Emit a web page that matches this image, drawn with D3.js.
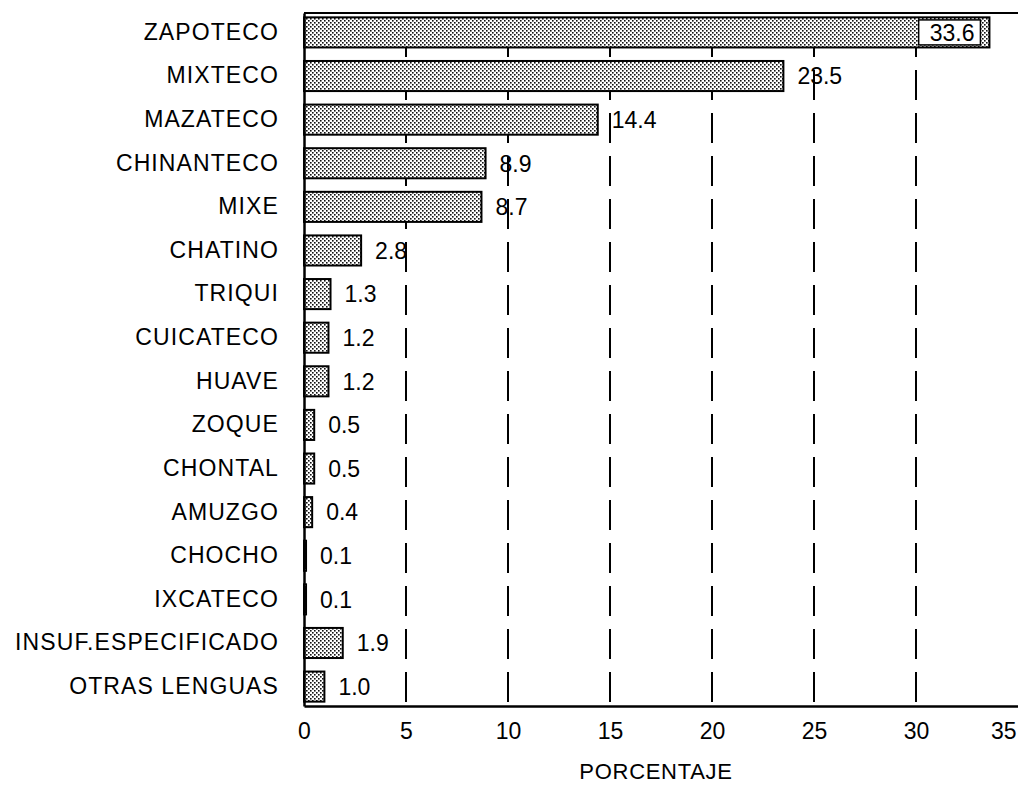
<!DOCTYPE html>
<html>
<head>
<meta charset="utf-8">
<script src="https://cdn.jsdelivr.net/npm/d3@7"></script>
<style>
  html, body { margin: 0; padding: 0; background: #fff; }
  svg { display: block; }
  text { font-family: "Liberation Sans", Arial, Helvetica, sans-serif; fill: #000; }
</style>
</head>
<body>
<svg id="chart" width="1018" height="785"></svg>
<script>
const categories = ["ZAPOTECO", "MIXTECO", "MAZATECO", "CHINANTECO", "MIXE", "CHATINO", "TRIQUI",
  "CUICATECO", "HUAVE", "ZOQUE", "CHONTAL", "AMUZGO", "CHOCHO", "IXCATECO",
  "INSUF.ESPECIFICADO", "OTRAS LENGUAS"];
const values = [33.6, 23.5, 14.4, 8.9, 8.7, 2.8, 1.3, 1.2, 1.2, 0.5, 0.5, 0.4, 0.1, 0.1, 1.9, 1.0];
const valueLabels = ["33.6", "23.5", "14.4", "8.9", "8.7", "2.8", "1.3", "1.2", "1.2", "0.5", "0.5", "0.4", "0.1", "0.1", "1.9", "1.0"];
const xTicks = [0, 5, 10, 15, 20, 25, 30, 35];
const gridTicks = [5, 10, 15, 20, 25, 30];
const xTitle = "PORCENTAJE";

const svg = d3.select("#chart");
const mLeft = 304, mRight = 1018, mTop = 13, mBottom = 706;

const x = d3.scaleLinear().domain([0, 35]).range([mLeft, mRight]);
const y = d3.scaleBand().domain(categories).range([mTop, mBottom]).paddingInner(0.31).paddingOuter(0.1);

// pattern for stippled bars
const defs = svg.append("defs");
const pat = defs.append("pattern").attr("id", "dots").attr("patternUnits", "userSpaceOnUse")
  .attr("width", 4).attr("height", 4);
pat.append("rect").attr("width", 4).attr("height", 4).attr("fill", "#fff");
pat.append("rect").attr("x", 0).attr("y", 0).attr("width", 1.6).attr("height", 1.6).attr("fill", "#111");
pat.append("rect").attr("x", 2).attr("y", 2).attr("width", 1.6).attr("height", 1.6).attr("fill", "#111");

// dashed gridlines
svg.append("g").selectAll("line").data(gridTicks).join("line")
  .attr("x1", d => x(d)).attr("x2", d => x(d))
  .attr("y1", mTop).attr("y2", mBottom)
  .attr("stroke", "#000").attr("stroke-width", 2)
  .attr("stroke-dasharray", "30,13").attr("stroke-dashoffset", -14);

// top border
svg.append("line").attr("x1", mLeft).attr("x2", mRight).attr("y1", mTop).attr("y2", mTop)
  .attr("stroke", "#000").attr("stroke-width", 2);

// bars
svg.append("g").selectAll("rect").data(values).join("rect")
  .attr("x", x(0))
  .attr("y", (d, i) => y(categories[i]))
  .attr("width", d => x(d) - x(0))
  .attr("height", y.bandwidth())
  .attr("fill", "url(#dots)")
  .attr("stroke", "#000").attr("stroke-width", 2);

// x axis
const xAxis = d3.axisBottom(x).tickValues(xTicks).tickFormat(d3.format("d")).tickSize(0).tickPadding(17);
const gx = svg.append("g").attr("transform", `translate(0,${mBottom})`).call(xAxis);
gx.select(".domain").attr("stroke", "#000").attr("stroke-width", 2.5);
gx.selectAll("text").style("font-size", "23px").style("font-family", "Liberation Sans, Arial, sans-serif");
gx.selectAll(".tick").filter(d => d === 35).select("text").attr("text-anchor", "end").attr("x", -2);

// y axis
const yAxis = d3.axisLeft(y).tickSize(0).tickPadding(25);
const gy = svg.append("g").attr("transform", `translate(${mLeft},0)`).call(yAxis);
gy.select(".domain").attr("stroke", "#000").attr("stroke-width", 2.5);
gy.selectAll("text").style("font-size", "23px").style("letter-spacing", "1.1px")
  .style("font-family", "Liberation Sans, Arial, sans-serif");

// value labels
const lbl = svg.append("g");
values.forEach((v, i) => {
  const cy = y(categories[i]) + y.bandwidth() / 2;
  const endX = x(v);
  const fits = endX + 14 + 50 < mRight - 10;
  if (fits) {
    lbl.append("text").attr("x", endX + 14).attr("y", cy).attr("dy", "0.36em")
      .style("font-size", "23px").text(valueLabels[i]);
  } else {
    const t = lbl.append("text").attr("x", endX - 15).attr("y", cy).attr("dy", "0.36em")
      .attr("text-anchor", "end").style("font-size", "23px").text(valueLabels[i]);
    const bb = t.node().getBBox();
    lbl.insert("rect", "text").attr("x", bb.x - 11).attr("y", cy - 12.5)
      .attr("width", bb.width + 17).attr("height", 25)
      .attr("fill", "#fff").attr("stroke", "#000").attr("stroke-width", 1.5);
  }
});

// x title
svg.append("text").attr("x", 656).attr("y", 771).attr("dy", "0.36em").attr("text-anchor", "middle")
  .style("font-size", "22px").style("letter-spacing", "0.7px").text(xTitle);
</script>
</body>
</html>
